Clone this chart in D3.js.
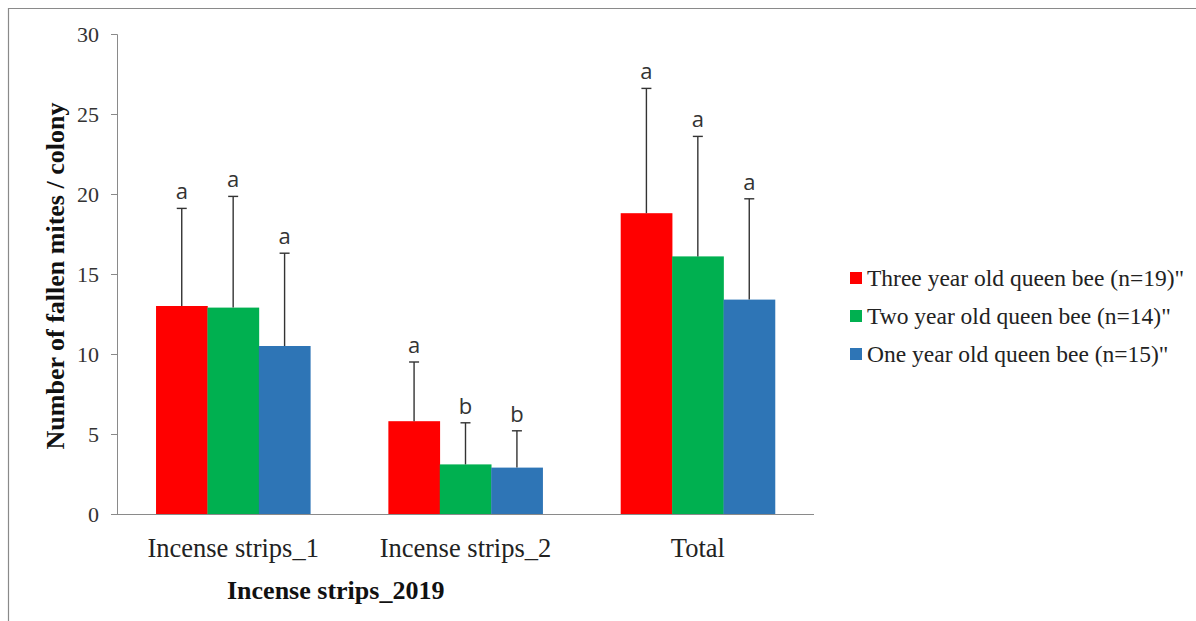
<!DOCTYPE html>
<html>
<head>
<meta charset="utf-8">
<script src="https://cdn.jsdelivr.net/npm/d3@7"></script>
<style>
  body { margin: 0; background: #fff; }
  svg { display: block; }
</style>
</head>
<body>
<svg id="chart"></svg>
<script>
// DATA //////////////////////////////////////////////////////////////////
var categories = ["Incense strips_1", "Incense strips_2", "Total"];
var seriesNames = ["Three year old queen bee (n=19)\"", "Two year old queen bee (n=14)\"", "One year old queen bee (n=15)\""];
var threeYear = [13.0, 5.8, 18.8];
var twoYear = [12.9, 3.1, 16.1];
var oneYear = [10.5, 2.9, 13.4];
var threeYearErr = [6.1, 3.7, 7.8];
var twoYearErr = [6.95, 2.6, 7.5];
var oneYearErr = [5.8, 2.3, 6.3];
var threeYearLetters = ["a", "a", "a"];
var twoYearLetters = ["a", "b", "a"];
var oneYearLetters = ["a", "b", "a"];
var yTicks = [0, 5, 10, 15, 20, 25, 30];
var COLOURS = ["#ff0000", "#00b050", "#2e75b6"];

var WIDTH = 1196, HEIGHT = 621;
var X0 = 117, X1 = 814, Y0 = 514, Y1 = 34;
var SERIF = "'Liberation Serif', 'Times New Roman', serif";

var values = [threeYear, twoYear, oneYear];
var errs = [threeYearErr, twoYearErr, oneYearErr];
var letters = [threeYearLetters, twoYearLetters, oneYearLetters];

// build rows for the bars
var rows = [];
categories.forEach(function (c, i) {
    seriesNames.forEach(function (s, j) {
        rows.push({ cat: c, series: j, value: values[j][i], err: errs[j][i], letter: letters[j][i] });
    });
});

// SETUP ////////////////////////////////////////////////////////////////
var svg = d3.select("#chart").attr("width", WIDTH).attr("height", HEIGHT);

// frame lines (top + left)
svg.append("line").attr("x1", 8).attr("x2", WIDTH).attr("y1", 8.5).attr("y2", 8.5)
    .attr("stroke", "#8a8a8a").attr("stroke-width", 1.2);
svg.append("line").attr("x1", 8.5).attr("x2", 8.5).attr("y1", 8).attr("y2", HEIGHT)
    .attr("stroke", "#8a8a8a").attr("stroke-width", 1.2);

var x = d3.scaleBand().domain(categories).range([X0, X1]).paddingInner(0.336).paddingOuter(0.168);
var xs = d3.scaleBand().domain([0, 1, 2]).range([0, x.bandwidth()]);
var y = d3.scaleLinear().domain([0, 30]).range([Y0, Y1]);

function cx(d) { return x(d.cat) + xs(d.series) + xs.bandwidth() / 2; }

// bars
svg.append("g").selectAll("rect")
    .data(rows)
    .enter().append("rect")
    .attr("x", function (d) { return x(d.cat) + xs(d.series); })
    .attr("y", function (d) { return y(d.value); })
    .attr("width", xs.bandwidth() + 0.3)
    .attr("height", function (d) { return y(0) - y(d.value); })
    .attr("fill", function (d) { return COLOURS[d.series]; });

// error bars
var eb = svg.append("g").attr("stroke", "#333").attr("stroke-width", 1.4);
eb.selectAll("line.v")
    .data(rows)
    .enter().append("line")
    .attr("class", "v")
    .attr("x1", cx)
    .attr("x2", cx)
    .attr("y1", function (d) { return y(d.value); })
    .attr("y2", function (d) { return y(d.value + d.err); });
eb.selectAll("line.cap")
    .data(rows)
    .enter().append("line")
    .attr("class", "cap")
    .attr("x1", function (d) { return cx(d) - 5; })
    .attr("x2", function (d) { return cx(d) + 5; })
    .attr("y1", function (d) { return y(d.value + d.err); })
    .attr("y2", function (d) { return y(d.value + d.err); });

// significance letters
svg.append("g").selectAll("text")
    .data(rows)
    .enter().append("text")
    .attr("x", cx)
    .attr("y", function (d) { return y(d.value + d.err) - 9; })
    .attr("text-anchor", "middle")
    .style("font-family", "'Open Sans', 'DejaVu Sans', sans-serif")
    .style("font-size", "22px")
    .attr("fill", "#333")
    .text(function (d) { return d.letter; });

// AXES /////////////////////////////////////////////////////////////////
var yAxis = svg.append("g")
    .attr("transform", "translate(" + X0 + ",0)")
    .call(d3.axisLeft(y).tickValues(yTicks).tickSize(6).tickPadding(12));
yAxis.select(".domain").attr("stroke", "#8a8a8a");
yAxis.selectAll(".tick line").attr("stroke", "#8a8a8a");
yAxis.selectAll(".tick text")
    .style("font-family", SERIF)
    .style("font-size", "22px")
    .attr("fill", "#333");

var xAxis = svg.append("g")
    .attr("transform", "translate(0," + Y0 + ")")
    .call(d3.axisBottom(x).tickSize(0).tickPadding(24));
xAxis.select(".domain").attr("stroke", "#8a8a8a").attr("d", "M" + (X0 - 6) + ",0.5H" + X1);
xAxis.selectAll(".tick text")
    .style("font-family", SERIF)
    .style("font-size", "26.5px")
    .attr("fill", "#222");

// axis titles
svg.append("text")
    .attr("transform", "translate(64," + ((Y0 + Y1) / 2 + 2) + ") rotate(-90)")
    .attr("text-anchor", "middle")
    .style("font-family", SERIF)
    .style("font-size", "26px")
    .style("font-weight", "bold")
    .attr("fill", "#111")
    .text("Number of fallen mites / colony");

svg.append("text")
    .attr("x", 227)
    .attr("y", 599)
    .attr("text-anchor", "start")
    .style("font-family", SERIF)
    .style("font-size", "26px")
    .style("font-weight", "bold")
    .attr("fill", "#111")
    .text("Incense strips_2019");

// LEGEND ///////////////////////////////////////////////////////////////
var legend = svg.append("g")
    .selectAll("g")
    .data(seriesNames)
    .enter().append("g")
    .attr("transform", function (d, i) { return "translate(850," + (278 + i * 38) + ")"; });

legend.append("rect")
    .attr("x", 0)
    .attr("y", -6)
    .attr("width", 12)
    .attr("height", 12)
    .attr("fill", function (d, i) { return COLOURS[i]; });

legend.append("text")
    .attr("x", 17)
    .attr("y", 0)
    .attr("dy", "0.35em")
    .style("font-family", SERIF)
    .style("font-size", "23.5px")
    .attr("fill", "#222")
    .text(function (d) { return d; });
</script>
</body>
</html>
